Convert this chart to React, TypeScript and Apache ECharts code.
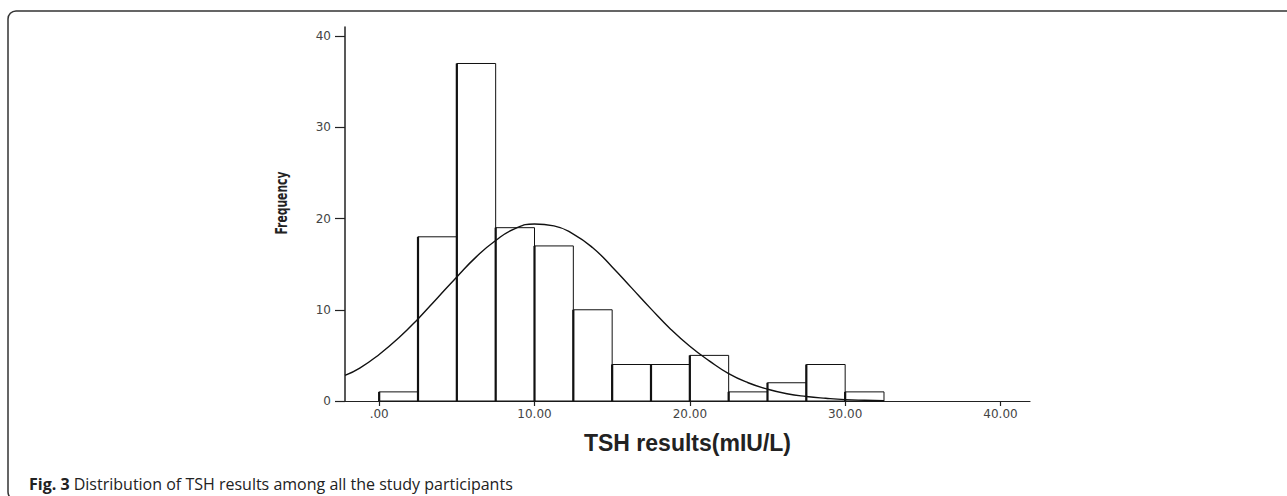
import React, { useEffect, useRef } from "react";
import * as echarts from "echarts";

// Histogram bins (TSH, mIU/L) and frequencies
const binStarts = [0, 2.5, 5, 7.5, 10, 12.5, 15, 17.5, 20, 22.5, 25, 27.5, 30];
const binEnds = [2.5, 5, 7.5, 10, 12.5, 15, 17.5, 20, 22.5, 25, 27.5, 30, 32.5];
const counts = [1, 18, 37, 19, 17, 10, 4, 4, 5, 1, 2, 4, 1];

// Fitted normal curve
const curveX = [-2.2, -1.25, 0, 1.25, 2.5, 3.75, 5, 6.25, 7.5, 8.75, 10, 11.25, 12.5, 13.75, 15, 16.25, 17.5, 18.75, 20, 21.25, 22.5, 23.75, 25, 26.25, 27.5, 28.75, 30, 31.25, 32.5];
const curveY = [2.8, 3.6, 5.1, 6.9, 9.0, 11.3, 13.6, 15.8, 17.6, 18.9, 19.4, 19.2, 18.3, 16.8, 14.7, 12.4, 10.1, 7.9, 6.0, 4.4, 3.0, 2.0, 1.3, 0.8, 0.5, 0.3, 0.15, 0.08, 0.04];

const xTicks = [0, 10, 20, 30, 40];
const yTicks = [0, 10, 20, 30, 40];

const xTitle = "TSH results(mIU/L)";
const yTitle = "Frequency";
const captionBold = "Fig. 3";
const captionText = " Distribution of TSH results among all the study participants";

export default function App() {
  const ref = useRef<HTMLDivElement>(null);
  useEffect(() => {
    if (!ref.current) return;
    const chart = echarts.init(ref.current, null, { renderer: "svg" });
    const histData = binStarts.map((s, i) => [s, binEnds[i], counts[i]]);
    const curveData = curveX.map((x, i) => [x, curveY[i]]);
    chart.setOption({
      animation: false,
      backgroundColor: "#ffffff",
      grid: { left: 345, right: 257, top: 27, bottom: 95 },
      xAxis: {
        type: "value",
        min: -2.2,
        max: 41.9,
        splitLine: { show: false },
        axisLine: { show: true, onZero: false, lineStyle: { color: "#222", width: 1.2 } },
        axisTick: { show: true, length: 5, customValues: xTicks, lineStyle: { color: "#222", width: 1.2 } },
        axisLabel: {
          customValues: xTicks,
          margin: 7,
          color: "#444",
          fontSize: 12,
          fontFamily: "DejaVu Sans",
          formatter: (v: number) => (v === 0 ? ".00" : v.toFixed(2)),
        },
        name: xTitle,
        nameLocation: "middle",
        nameGap: 30,
        nameTextStyle: {
          fontSize: 23,
          fontWeight: "bold",
          fontFamily: "Liberation Sans, Arial, sans-serif",
          color: "#222",
        },
      },
      yAxis: {
        type: "value",
        min: 0,
        max: 41,
        splitLine: { show: false },
        axisLine: { show: true, onZero: false, lineStyle: { color: "#222", width: 1.5 } },
        axisTick: { show: true, length: 10, customValues: yTicks, lineStyle: { color: "#222", width: 1.2 } },
        axisLabel: {
          customValues: yTicks,
          margin: 14,
          color: "#444",
          fontSize: 12,
          fontFamily: "DejaVu Sans",
        },
      },
      series: [
        {
          type: "custom",
          data: histData,
          encode: { x: [0, 1], y: 2 },
          z: 2,
          renderItem: (params: any, api: any) => {
            const x0 = api.value(0);
            const x1 = api.value(1);
            const c = api.value(2);
            const p0 = api.coord([x0, 0]);
            const p1 = api.coord([x1, c]);
            return {
              type: "group",
              children: [
                {
                  type: "rect",
                  shape: { x: p0[0], y: p1[1], width: p1[0] - p0[0], height: p0[1] - p1[1] },
                  style: { fill: "#ffffff", stroke: "#111", lineWidth: 1 },
                },
                {
                  type: "line",
                  shape: { x1: p0[0], y1: p0[1], x2: p0[0], y2: p1[1] },
                  style: { stroke: "#111", lineWidth: 2.2 },
                },
              ],
            };
          },
        },
        {
          type: "line",
          data: curveData,
          smooth: true,
          showSymbol: false,
          z: 3,
          lineStyle: { color: "#111", width: 1.4 },
        },
      ],
      graphic: [
        {
          type: "rect",
          shape: { x: 8, y: 11, width: 1300, height: 489, r: 8 },
          style: { fill: "none", stroke: "#333", lineWidth: 1.5 },
          silent: true,
        },
        {
          type: "text",
          x: 281,
          y: 203,
          rotation: Math.PI / 2,
          scaleX: 0.8,
          style: {
            text: yTitle,
            fontSize: 15,
            fontWeight: "bold",
            fontFamily: "'Liberation Sans Narrow', 'DejaVu Sans Condensed', sans-serif",
            fill: "#222",
            align: "center",
            verticalAlign: "middle",
          },
        },
        {
          type: "text",
          x: 29,
          y: 484,
          style: {
            text: "{b|" + captionBold + "}" + captionText,
            fontSize: 16,
            fontFamily: "'Open Sans', sans-serif",
            fill: "#222",
            verticalAlign: "middle",
            rich: {
              b: { fontSize: 16, fontWeight: "bold", fontFamily: "'Open Sans', sans-serif", fill: "#222" },
            },
          },
        },
      ],
    });
    return () => chart.dispose();
  }, []);
  return <div ref={ref} style={{ width: 1287, height: 496, position: "absolute", left: 0, top: 0 }} />;
}
